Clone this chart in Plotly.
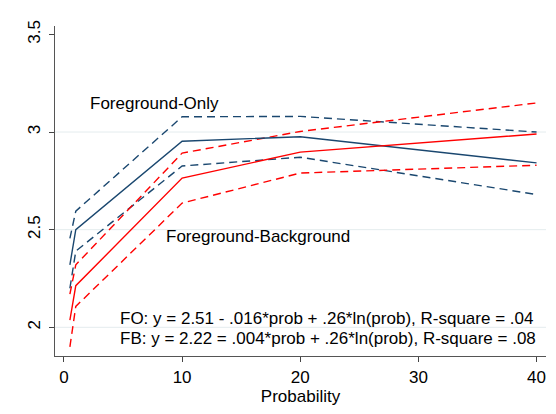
import plotly.graph_objects as go

prob = [0.5, 1, 10, 20, 40]

fo_mean = [2.32, 2.50, 2.953, 2.976, 2.842]
fo_upper = [2.455, 2.595, 3.078, 3.08, 3.0]
fo_lower = [2.20, 2.39, 2.826, 2.871, 2.68]

fb_mean = [2.037, 2.213, 2.764, 2.897, 2.99]
fb_upper = [2.17, 2.32, 2.892, 3.003, 3.149]
fb_lower = [1.90, 2.107, 2.636, 2.79, 2.83]

x_ticks = [0, 10, 20, 30, 40]
y_ticks = [2, 2.5, 3, 3.5]
y_tick_labels = ["2", "2.5", "3", "3.5"]
y_grid = [2, 2.5, 3]

label_fo = "Foreground-Only"
label_fb = "Foreground-Background"
eq_fo = "FO: y = 2.51 - .016*prob + .26*ln(prob), R-square = .04"
eq_fb = "FB: y = 2.22 = .004*prob + .26*ln(prob), R-square = .08"

NAVY = "#1a476f"
RED = "#ff0000"
FONT = "Liberation Sans, Arial, Helvetica, sans-serif"

fig = go.Figure()
for g in y_grid:
    fig.add_hline(y=g, line=dict(color="#e4ecee", width=1), layer="below")

for ys, col, dash in [
    (fo_upper, NAVY, "8px,5px"),
    (fo_lower, NAVY, "8px,5px"),
    (fb_upper, RED, "8px,5px"),
    (fb_lower, RED, "8px,5px"),
    (fo_mean, NAVY, "solid"),
    (fb_mean, RED, "solid"),
]:
    fig.add_trace(go.Scatter(x=prob, y=ys, mode="lines",
                             line=dict(color=col, width=1.4, dash=dash),
                             showlegend=False, hoverinfo="skip"))

ann_font = dict(family=FONT, size=17, color="black")
fig.add_annotation(x=2.0, y=3.146, text=label_fo, showarrow=False,
                   xanchor="left", yanchor="middle", font=ann_font)
fig.add_annotation(x=8.45, y=2.466, text=label_fb, showarrow=False,
                   xanchor="left", yanchor="middle", font=ann_font)
fig.add_annotation(x=4.55, y=2.043, text=eq_fo, showarrow=False,
                   xanchor="left", yanchor="middle", font=ann_font)
fig.add_annotation(x=4.55, y=1.943, text=eq_fb, showarrow=False,
                   xanchor="left", yanchor="middle", font=ann_font)

fig.update_layout(
    width=556, height=414,
    margin=dict(l=47, r=18, t=12, b=66),
    paper_bgcolor="white", plot_bgcolor="white",
    font=dict(family=FONT, size=17, color="black"),
    xaxis=dict(range=[-0.76, 40.8], tickvals=x_ticks, ticks="outside",
               ticklen=5, tickcolor="#444", showgrid=False, zeroline=False,
               showline=True, linecolor="#555", linewidth=1.3,
               title=dict(text="Probability", font=dict(size=17), standoff=2),
               tickfont=dict(size=17)),
    yaxis=dict(range=[1.853, 3.543], tickvals=y_ticks, ticktext=y_tick_labels,
               ticks="outside", ticklen=5, tickcolor="#444", tickangle=-90,
               ticklabelstandoff=2,
               showgrid=False, zeroline=False,
               showline=True, linecolor="#555", linewidth=1.3,
               tickfont=dict(size=17)),
)

fig.write_html("out.html")
